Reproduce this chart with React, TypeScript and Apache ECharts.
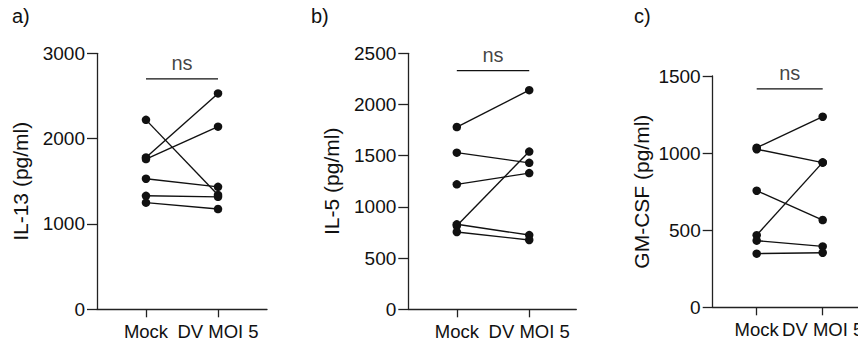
import React, { useEffect, useRef } from 'react';
import * as echarts from 'echarts';

const categories = ['Mock', 'DV MOI 5'];
const panelLabels = ['a)', 'b)', 'c)'];
const yTitles = ['IL-13 (pg/ml)', 'IL-5 (pg/ml)', 'GM-CSF (pg/ml)'];

const il13Mock = [2220, 1780, 1760, 1530, 1330, 1250];
const il13Dv = [1340, 2530, 2140, 1435, 1318, 1175];

const il5Mock = [1780, 1530, 1220, 815, 830, 755];
const il5Dv = [2140, 1430, 1330, 1540, 725, 677];

const gmcsfMock = [1035, 1025, 756, 468, 432, 348];
const gmcsfDv = [1236, 938, 566, 940, 395, 354];

const yMax = [3000, 2500, 1500];
const yInterval = [1000, 500, 500];
const nsLevel = [2700, 2330, 1416];
const nsText = 'ns';

const FONT = "'Liberation Sans', Arial, Helvetica, sans-serif";
const INK = '#111111';

const panels = [
  { mock: il13Mock, dv: il13Dv },
  { mock: il5Mock, dv: il5Dv },
  { mock: gmcsfMock, dv: gmcsfDv },
];

// layout (pixels)
const grids = [
  { left: 97, top: 53.3, width: 170, height: 256, xmin: 0.32, xmax: 2.68, nameGap: 66, labelLeft: 12 },
  { left: 408.3, top: 53.3, width: 168, height: 256, xmin: 0.33, xmax: 2.65, nameGap: 66, labelLeft: 311 },
  { left: 712.7, top: 76, width: 150, height: 231.3, xmin: 1 / 3, xmax: 1 / 3 + 150 / 66, nameGap: 61, labelLeft: 634 },
];

export default function App() {
  const ref = useRef<HTMLDivElement>(null);
  useEffect(() => {
    if (!ref.current) return;
    const chart = echarts.init(ref.current, undefined, { renderer: 'svg' });
    const series: any[] = [];
    panels.forEach((p, pi) => {
      p.mock.forEach((m, i) => {
        series.push({
          type: 'line',
          name: `${yTitles[pi]} donor ${i + 1}`,
          xAxisIndex: pi,
          yAxisIndex: pi,
          data: [
            [1, m],
            [2, p.dv[i]],
          ],
          symbol: 'circle',
          symbolSize: 8.5,
          itemStyle: { color: '#111' },
          lineStyle: { color: '#111', width: 1.4 },
          z: 3,
        });
      });
      series.push({
        type: 'line',
        name: `ns bar ${pi}`,
        xAxisIndex: pi,
        yAxisIndex: pi,
        data: [
          [1, nsLevel[pi]],
          [2, nsLevel[pi]],
        ],
        symbol: 'none',
        lineStyle: { color: '#111', width: 1.3 },
      });
      series.push({
        type: 'scatter',
        name: `ns label ${pi}`,
        xAxisIndex: pi,
        yAxisIndex: pi,
        data: [[1.5, nsLevel[pi]]],
        symbolSize: 0,
        label: {
          show: true,
          position: 'top',
          distance: 6,
          formatter: nsText,
          fontSize: 20,
          fontFamily: FONT,
          color: INK,
        },
      });
    });

    const labelStyle = {
      show: true,
      fontSize: 18.5,
      color: INK,
      fontFamily: FONT,
      margin: 13,
      hideOverlap: false,
      showMinLabel: true,
      showMaxLabel: true,
      formatter: (v: number) => categories[Math.round(v) - 1] ?? '',
    };

    // primary x axes (line, ticks, first category label)
    const primaryX = grids.map((g, i) => ({
      type: 'value',
      gridIndex: i,
      min: g.xmin,
      max: g.xmax,
      axisLine: { show: true, onZero: false, lineStyle: { color: '#222', width: 1.3 } },
      axisTick: { show: true, length: 8, customValues: [1, 2], lineStyle: { color: '#222', width: 1.3 } },
      axisLabel: { ...labelStyle, customValues: [1] },
      splitLine: { show: false },
    }));
    // overlay x axes carrying only the second category label
    const overlayX = grids.map((g, i) => ({
      type: 'value',
      gridIndex: i,
      min: g.xmin,
      max: g.xmax,
      position: 'bottom',
      axisLine: { show: false, onZero: false },
      axisTick: { show: false },
      axisLabel: { ...labelStyle, customValues: [2] },
      splitLine: { show: false },
    }));

    chart.setOption({
      animation: false,
      backgroundColor: '#ffffff',
      textStyle: { fontFamily: FONT },
      title: grids.map((g, i) => ({
        text: panelLabels[i],
        left: g.labelLeft,
        top: 6,
        padding: 0,
        textStyle: { fontSize: 20, fontWeight: 'normal', color: INK, fontFamily: FONT },
      })),
      grid: grids.map((g) => ({
        left: g.left,
        top: g.top,
        width: g.width,
        height: g.height,
        containLabel: false,
        outerBoundsMode: 'none',
      })),
      xAxis: [...primaryX, ...overlayX],
      yAxis: grids.map((g, i) => ({
        type: 'value',
        gridIndex: i,
        min: 0,
        max: yMax[i],
        interval: yInterval[i],
        name: yTitles[i],
        nameLocation: 'middle',
        nameGap: g.nameGap,
        nameRotate: 90,
        nameTextStyle: { fontSize: 21, color: INK, fontFamily: FONT },
        axisLine: { show: true, lineStyle: { color: '#222', width: 1.3 } },
        axisTick: { show: true, length: 10, lineStyle: { color: '#222', width: 1.3 } },
        axisLabel: {
          fontSize: 19,
          color: INK,
          fontFamily: FONT,
          margin: 12,
          formatter: (v: number) => String(v),
        },
        splitLine: { show: false },
      })),
      series,
    });
    return () => chart.dispose();
  }, []);
  return <div ref={ref} style={{ position: 'absolute', left: 0, top: 0, width: 858, height: 347 }} />;
}
